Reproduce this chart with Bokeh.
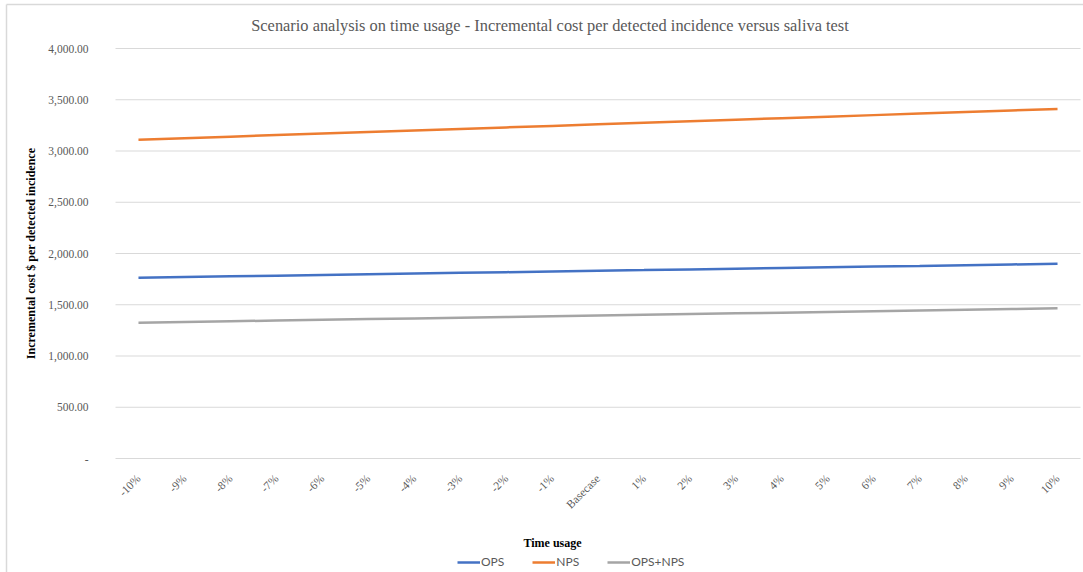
import math
from bokeh.plotting import figure
from bokeh.models import Range1d, Legend, LegendItem
from bokeh.embed import file_html
from bokeh.resources import INLINE

categories = ["-10%", "-9%", "-8%", "-7%", "-6%", "-5%", "-4%", "-3%", "-2%", "-1%",
              "Basecase", "1%", "2%", "3%", "4%", "5%", "6%", "7%", "8%", "9%", "10%"]
ops = [1763, 1770, 1777, 1784, 1790, 1797, 1804, 1811, 1818, 1825,
       1832, 1838, 1845, 1852, 1859, 1866, 1873, 1879, 1886, 1893, 1900]
nps = [3110, 3125, 3140, 3155, 3170, 3185, 3200, 3215, 3230, 3245,
       3260, 3275, 3290, 3305, 3320, 3335, 3350, 3365, 3380, 3395, 3410]
ops_nps = [1325, 1332, 1339, 1346, 1353, 1360, 1367, 1374, 1381, 1388,
           1395, 1402, 1409, 1416, 1423, 1430, 1437, 1444, 1451, 1458, 1465]
y_ticks = [0, 500, 1000, 1500, 2000, 2500, 3000, 3500, 4000]
y_tick_labels = ["-", "500.00", "1,000.00", "1,500.00", "2,000.00",
                 "2,500.00", "3,000.00", "3,500.00", "4,000.00"]
title_text = "Scenario analysis on time usage - Incremental cost per detected incidence versus saliva test"
y_title = "Incremental cost $ per detected incidence"
x_title = "Time usage"

FONT = "Lato"
GRAY = "#595959"
GRID = "#d9d9d9"

# layout (pixels) of the plotting area inside the whole canvas
W, H = 1083, 572
PX_L, PX_R, PX_TOP, PX_ZERO = 115, 1080, 48, 458

n = len(categories)
xs = list(range(n))
band = (PX_R - PX_L) / n
yscale = (PX_ZERO - PX_TOP) / y_ticks[-1]


def px2x(px):
    return -0.5 + (px - PX_L) / band


def px2y(py):
    return (PX_ZERO - py) / yscale


p = figure(width=W, height=H,
           x_range=Range1d(px2x(0), px2x(W)), y_range=Range1d(px2y(H), px2y(0)),
           output_backend="svg", toolbar_location=None,
           min_border_left=0, min_border_right=0, min_border_top=0, min_border_bottom=0)
p.xaxis.visible = False
p.yaxis.visible = False
p.xgrid.visible = False
p.ygrid.visible = False
p.outline_line_color = None
p.background_fill_color = "white"
p.border_fill_color = "white"

# chart-area border (top and left edges visible in the reference)
p.segment(x0=[px2x(6), px2x(6)], y0=[px2y(4), px2y(4)],
          x1=[px2x(W), px2x(6)], y1=[px2y(4), px2y(H)],
          line_color=GRID, line_width=1.5)

# horizontal gridlines
p.segment(x0=[-0.5] * len(y_ticks), x1=[n - 0.5] * len(y_ticks),
          y0=y_ticks, y1=y_ticks, line_color=GRID, line_width=1)

# y tick labels
p.text(x=[-0.5] * len(y_ticks), y=y_ticks, text=y_tick_labels, x_offset=-27,
       text_align="right", text_baseline="middle", text_font=FONT,
       text_font_size="11.5px", text_color=GRAY)

# y axis title
p.text(x=[-0.5], y=[y_ticks[-1] / 2], text=[y_title], x_offset=-85,
       angle=math.pi / 2, text_align="center", text_baseline="middle",
       text_font=FONT, text_font_size="12px", text_font_style="bold",
       text_color="black")

# x tick labels (rotated 45 degrees)
p.text(x=xs, y=[0] * n, text=categories, y_offset=18, angle=math.pi / 4,
       text_align="right", text_baseline="middle", text_font=FONT,
       text_font_size="11.5px", text_color=GRAY)

# x axis title
p.text(x=[px2x(552)], y=[px2y(542)], text=[x_title],
       text_align="center", text_baseline="middle", text_font=FONT,
       text_font_size="12px", text_font_style="bold", text_color="black")

# chart title
p.text(x=[px2x(549.5)], y=[px2y(25)], text=[title_text],
       text_align="center", text_baseline="middle", text_font=FONT,
       text_font_size="16.4px", text_color=GRAY)

r_ops = p.line(xs, ops, line_color="#4472C4", line_width=2.5)
r_nps = p.line(xs, nps, line_color="#ED7D31", line_width=2.5)
r_on = p.line(xs, ops_nps, line_color="#A5A5A5", line_width=2.5)

legend = Legend(items=[LegendItem(label="OPS", renderers=[r_ops]),
                       LegendItem(label="NPS", renderers=[r_nps]),
                       LegendItem(label="OPS+NPS", renderers=[r_on])],
                orientation="horizontal", location=(457, 3),
                label_text_font=FONT, label_text_font_size="12px",
                label_text_color=GRAY, glyph_width=23, glyph_height=10,
                label_standoff=1, spacing=28, padding=0, margin=0,
                border_line_color=None, background_fill_alpha=0,
                label_height=12)
p.add_layout(legend)

open("out.html", "w").write(file_html(p, INLINE))
